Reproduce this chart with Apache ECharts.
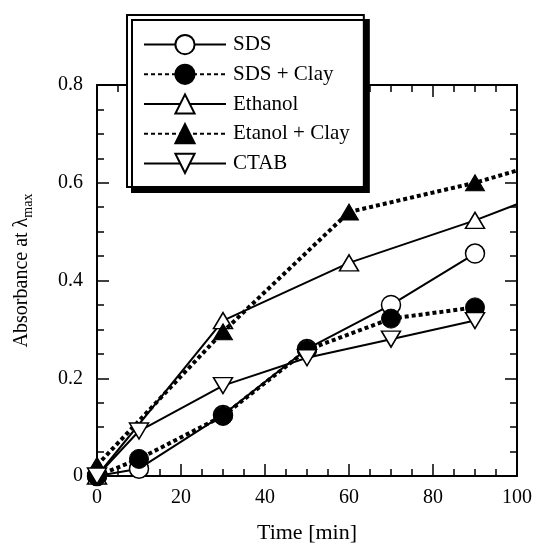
<!DOCTYPE html>
<html>
<head>
<meta charset="utf-8">
<script src="https://cdn.jsdelivr.net/npm/echarts@6/dist/echarts.min.js"></script>
<style>
html,body{margin:0;padding:0;background:#fff;}
#chart{width:536px;height:549px;}
</style>
</head>
<body>
<div id="chart"></div>
<script>
// ---- data ----
var seriesNames = ['SDS', 'SDS + Clay', 'Ethanol', 'Etanol + Clay', 'CTAB'];
var timeA = [0, 10, 30, 50, 70, 90];
var sds = [0, 0.015, 0.125, 0.26, 0.35, 0.455];
var sdsClay = [0, 0.035, 0.123, 0.258, 0.322, 0.345];
var ctab = [0, 0.092, 0.185, 0.242, 0.28, 0.318];
var timeB = [0, 30, 60, 90, 100];
var ethanol = [0, 0.318, 0.436, 0.523, 0.556];
var etanolClay = [0.022, 0.295, 0.54, 0.6, 0.625];
var xTicks = [0, 20, 40, 60, 80, 100];
var yTicks = [0, 0.2, 0.4, 0.6, 0.8];

var FONT = 'Liberation Serif';

function pairs(xs, ys, lastNoSymbol) {
  return xs.map(function (x, i) {
    if (lastNoSymbol && i === xs.length - 1) {
      return { value: [x, ys[i]], symbol: 'none' };
    }
    return [x, ys[i]];
  });
}

var solid = { color: '#000', width: 2, type: 'solid' };
var dotted = { color: '#000', width: 4, type: [4, 3] };

var chart = echarts.init(document.getElementById('chart'), null, { renderer: 'canvas' });

function axisCommon() {
  return {
    axisLine: { show: true, onZero: false, lineStyle: { color: '#000', width: 2 } },
    axisTick: { show: true, inside: true, length: 12, lineStyle: { color: '#000', width: 1.5 } },
    minorTick: { show: true, splitNumber: 4, length: 7, lineStyle: { color: '#000', width: 1.5 } },
    splitLine: { show: false }
  };
}

var option = {
  backgroundColor: '#fff',
  animation: false,
  grid: { left: 97, right: 19, top: 85, bottom: 72, containLabel: false },
  legend: {
    orient: 'vertical',
    left: 127,
    top: 15,
    data: seriesNames,
    itemWidth: 82,
    itemHeight: 24,
    itemGap: 8.5,
    padding: [19, 14, 13, 16],
    backgroundColor: '#fff',
    borderColor: '#000',
    borderWidth: 2,
    borderRadius: 0,
    shadowColor: '#000',
    shadowBlur: 0,
    shadowOffsetX: 5,
    shadowOffsetY: 5,
    textStyle: { fontFamily: FONT, fontSize: 21, color: '#000', padding: [0, 0, 0, 2] }
  },
  xAxis: [
    Object.assign(axisCommon(), {
      type: 'value', min: 0, max: 100, interval: 20, position: 'bottom',
      name: 'Time [min]', nameLocation: 'middle', nameGap: 46,
      nameTextStyle: { fontFamily: FONT, fontSize: 22, color: '#000' },
      axisLabel: { fontFamily: FONT, fontSize: 20, color: '#000', margin: 12 }
    }),
    Object.assign(axisCommon(), {
      type: 'value', min: 0, max: 100, interval: 20, position: 'top',
      axisLabel: { show: false }
    })
  ],
  yAxis: [
    Object.assign(axisCommon(), {
      type: 'value', min: 0, max: 0.8, interval: 0.2, position: 'left',
      name: 'Absorbance at λ{sub|max}', nameLocation: 'middle', nameGap: 62, nameRotate: 90,
      nameTextStyle: {
        fontFamily: FONT, fontSize: 20, color: '#000', padding: [0, 0, 0, 20],
        rich: { sub: { fontFamily: FONT, fontSize: 14, color: '#000', verticalAlign: 'bottom', padding: [12, 0, 0, 0] } }
      },
      axisLabel: {
        fontFamily: FONT, fontSize: 20, color: '#000', margin: 14,
        formatter: function (v) { return v === 0 ? '0' : v.toFixed(1); }
      }
    }),
    Object.assign(axisCommon(), {
      type: 'value', min: 0, max: 0.8, interval: 0.2, position: 'right',
      axisLabel: { show: false }
    })
  ],
  series: [
    {
      name: seriesNames[0], type: 'line', data: pairs(timeA, sds),
      symbol: 'circle', symbolSize: 19, lineStyle: solid,
      itemStyle: { color: '#fff', borderColor: '#000', borderWidth: 1.5 }, z: 3
    },
    {
      name: seriesNames[1], type: 'line', data: pairs(timeA, sdsClay),
      symbol: 'circle', symbolSize: 19, lineStyle: dotted,
      itemStyle: { color: '#000', borderColor: '#000', borderWidth: 1 }, z: 4
    },
    {
      name: seriesNames[2], type: 'line', data: pairs(timeB, ethanol, true),
      symbol: 'triangle', symbolSize: [19, 16], lineStyle: solid,
      itemStyle: { color: '#fff', borderColor: '#000', borderWidth: 1.5 }, z: 3
    },
    {
      name: seriesNames[3], type: 'line', data: pairs(timeB, etanolClay, true),
      symbol: 'triangle', symbolSize: [19, 16], lineStyle: dotted,
      itemStyle: { color: '#000', borderColor: '#000', borderWidth: 1 }, z: 4
    },
    {
      name: seriesNames[4], type: 'line', data: pairs(timeA, ctab),
      symbol: 'triangle', symbolRotate: 180, symbolSize: [19, 16], lineStyle: solid,
      itemStyle: { color: '#fff', borderColor: '#000', borderWidth: 1.5 }, z: 5
    }
  ]
};
chart.setOption(option);
</script>
</body>
</html>
